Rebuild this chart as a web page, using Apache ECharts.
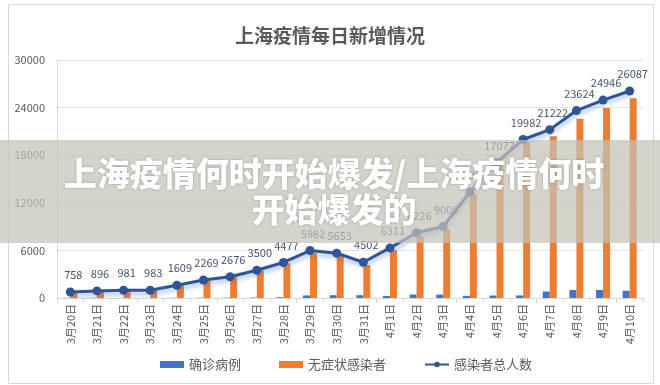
<!DOCTYPE html>
<html><head><meta charset="utf-8">
<script src="https://cdn.jsdelivr.net/npm/echarts@6/dist/echarts.min.js"></script>
<style>html,body{margin:0;padding:0;background:#fff}#c{width:660px;height:385px}</style>
</head><body><div id="c"></div>
<script>
const categories = ['3月20日','3月21日','3月22日','3月23日','3月24日','3月25日','3月26日','3月27日','3月28日','3月29日','3月30日','3月31日','4月1日','4月2日','4月3日','4月4日','4月5日','4月6日','4月7日','4月8日','4月9日','4月10日'];
const confirmed = [24,31,4,4,29,38,45,50,96,326,355,358,260,438,425,268,311,322,824,1015,1006,914];
const asymptomatic = [734,865,977,979,1580,2231,2631,3450,4381,5656,5298,4144,6051,7788,8581,13086,16766,19660,20398,22609,23940,25173];
const total = [758,896,981,983,1609,2269,2676,3500,4477,5982,5653,4502,6311,8226,9006,13354,17077,19982,21222,23624,24946,26087];
const yTicks = [0,6000,12000,18000,24000,30000];

const chart = echarts.init(document.getElementById('c'));
const font = '"Noto Sans CJK SC", "Noto Sans", sans-serif';
chart.setOption({
  animation:false,
  textStyle:{fontFamily:font},
  title:{text:'上海疫情每日新增情况',left:'center',top:21,textStyle:{fontSize:19,fontWeight:'bold',color:'#595959',fontFamily:font}},
  grid:{left:57,right:17,top:60,bottom:87},
  legend:{bottom:9,left:155,itemGap:38,itemWidth:24,itemHeight:7,textStyle:{fontSize:13,color:'#595959'},
    data:[{name:'确诊病例',icon:'rect'},{name:'无症状感染者',icon:'rect'},{name:'感染者总人数'}]},
  xAxis:{type:'category',data:categories,
    axisLine:{lineStyle:{color:'#D9D9D9'}},
    axisTick:{show:true,alignWithLabel:false,lineStyle:{color:'#D9D9D9'}},
    axisLabel:{rotate:90,color:'#595959',fontSize:11,interval:0,margin:6}},
  yAxis:{type:'value',min:yTicks[0],max:yTicks[yTicks.length-1],interval:yTicks[1]-yTicks[0],
    axisLine:{show:true,lineStyle:{color:'#D9D9D9'}},
    splitLine:{lineStyle:{color:'#E4E4E4'}},
    axisLabel:{color:'#595959',fontSize:11,margin:12,formatter:v=>String(v)}},
  series:[
    {name:'确诊病例',type:'bar',data:confirmed,barWidth:7,barGap:'0%',itemStyle:{color:'#4472C4'}},
    {name:'无症状感染者',type:'bar',data:asymptomatic,barWidth:7,itemStyle:{color:'#ED7D31'}},
    {name:'感染者总人数',type:'line',data:total,symbol:'circle',symbolSize:9,
      lineStyle:{color:'#2F5597',width:3,shadowColor:'rgba(68,114,196,0.55)',shadowBlur:5,shadowOffsetY:3},
      itemStyle:{color:'#2F5597'},
      label:{show:true,position:'top',distance:7,offset:[3,0],color:'#44546A',fontSize:11}
    }
  ],
  graphic:[
    {type:'rect',left:6,top:2,shape:{width:645,height:379},style:{fill:'none',stroke:'#D9D9D9',lineWidth:1},z:0},
    {type:'rect',left:0,top:140,shape:{width:660,height:103},style:{fill:'rgba(196,194,184,0.72)'},z:100},
    {type:'text',x:334,y:155,z:101,style:{text:'上海疫情何时开始爆发/上海疫情何时\n开始爆发的',textAlign:'center',align:'center',fill:'#fff',font:'900 33px '+font,lineHeight:36,textShadowColor:'rgba(0,0,0,0.25)',textShadowBlur:3}}
  ]
});
</script></body></html>
